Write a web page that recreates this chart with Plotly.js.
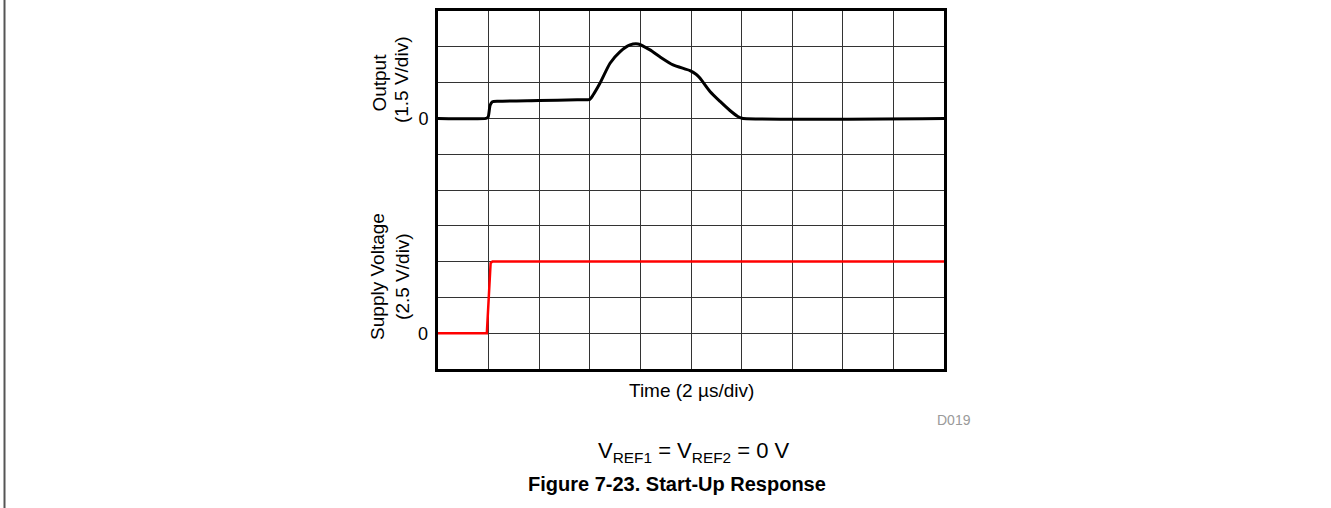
<!DOCTYPE html>
<html>
<head>
<meta charset="utf-8">
<script src="https://cdn.plot.ly/plotly-3.0.1.min.js"></script>
<style>html,body{margin:0;padding:0;background:#fff;}#chart{width:1331px;height:508px;}</style>
</head>
<body>
<div id="chart"></div>
<script>
// Output trace (time in µs, voltage in V)
const outputTime = [0, 1.90, 1.98, 2.06, 2.15, 2.40, 4.0, 5.5, 6.0, 6.13, 6.40, 6.80, 7.19, 7.59, 7.91, 8.38, 8.77, 9.29, 9.96, 10.20, 10.36, 10.75, 11.15, 11.54, 11.85, 12.02, 20];
const outputV    = [0, 0, 0.05, 0.55, 0.70, 0.72, 0.75, 0.78, 0.80, 0.98, 1.47, 2.31, 2.79, 3.08, 3.12, 2.87, 2.58, 2.24, 2.00, 1.85, 1.68, 1.13, 0.71, 0.33, 0.08, 0.01, 0];
// Supply voltage trace
const supplyTime = [0, 1.93, 2.08, 2.15, 20];
const supplyV    = [0, 0, 4.9, 5.0, 5.0];
// Grid ticks
const outputGrid = [-10.5, -9, -7.5, -6, -4.5, -3, -1.5, 0, 1.5, 3, 4.5];
const outputTickText = ["", "", "", "", "", "", "", "0", "", "", ""];
const supplyTicks = [0];
const supplyTickText = ["0"];

const font = "Liberation Sans, Arial, sans-serif";

const traces = [
  {x: outputTime, y: outputV, mode: "lines", line: {color: "#000", width: 3, shape: "spline", smoothing: 0.6}, yaxis: "y", hoverinfo: "skip"},
  {x: supplyTime, y: supplyV, mode: "lines", line: {color: "#ff0000", width: 2.5}, yaxis: "y2", hoverinfo: "skip"}
];

const layout = {
  width: 1331, height: 508,
  margin: {l: 438, r: 387, t: 11, b: 139},
  paper_bgcolor: "#fff", plot_bgcolor: "#fff",
  showlegend: false,
  font: {family: font, size: 18, color: "#000"},
  xaxis: {range: [0, 20], dtick: 2, tick0: 0, showgrid: true, gridcolor: "#333", gridwidth: 1,
          showticklabels: false, ticks: "", zeroline: false,
          showline: true, mirror: true, linecolor: "#000", linewidth: 3},
  yaxis: {range: [-10.5, 4.5], tickmode: "array", tickvals: outputGrid, ticktext: outputTickText,
          showgrid: true, gridcolor: "#333", gridwidth: 1, ticks: "", zeroline: false,
          showline: true, mirror: true, linecolor: "#000", linewidth: 3,
          ticklabelstandoff: 3, tickfont: {size: 18}},
  yaxis2: {range: [-2.5, 22.5], overlaying: "y", side: "left", tickmode: "array",
           tickvals: supplyTicks, ticktext: supplyTickText, showgrid: false, zeroline: false,
           ticks: "", showline: false, ticklabelstandoff: 9, tickfont: {size: 18}},
  annotations: [
    {text: "Output", xref: "paper", yref: "paper", x: -0.1146, y: 0.80,
     textangle: -90, showarrow: false, font: {size: 19}, xanchor: "center", yanchor: "middle"},
    {text: "(1.5 V/div)", xref: "paper", yref: "paper", x: -0.0731, y: 0.807,
     textangle: -90, showarrow: false, font: {size: 19}, xanchor: "center", yanchor: "middle"},
    {text: "Supply Voltage", xref: "paper", yref: "paper", x: -0.1186, y: 0.26,
     textangle: -90, showarrow: false, font: {size: 19}, xanchor: "center", yanchor: "middle"},
    {text: "(2.5 V/div)", xref: "paper", yref: "paper", x: -0.0692, y: 0.26,
     textangle: -90, showarrow: false, font: {size: 19}, xanchor: "center", yanchor: "middle"},
    {text: "Time (2 µs/div)", xref: "paper", yref: "paper", x: 0.5, y: -0.059,
     showarrow: false, font: {size: 19}, xanchor: "center", yanchor: "middle"},
    {text: "D019", xref: "paper", yref: "paper", x: 1.02, y: -0.142,
     showarrow: false, font: {size: 14, color: "#9a9a9a"}, xanchor: "center", yanchor: "middle"},
    {text: "V<sub>REF1</sub> = V<sub>REF2</sub> = 0 V", xref: "paper", yref: "paper", x: 0.506, y: -0.232,
     showarrow: false, font: {size: 22}, xanchor: "center", yanchor: "middle"},
    {text: "<b>Figure 7-23. Start-Up Response</b>", xref: "paper", yref: "paper", x: 0.472, y: -0.321,
     showarrow: false, font: {size: 20}, xanchor: "center", yanchor: "middle"}
  ],
  shapes: [
    {type: "line", xref: "paper", yref: "paper", x0: -0.8567, x1: -0.8567, y0: -0.4, y1: 1.05,
     line: {color: "#555", width: 2}}
  ]
};

Plotly.newPlot("chart", traces, layout, {displayModeBar: false, staticPlot: true});
</script>
</body>
</html>
